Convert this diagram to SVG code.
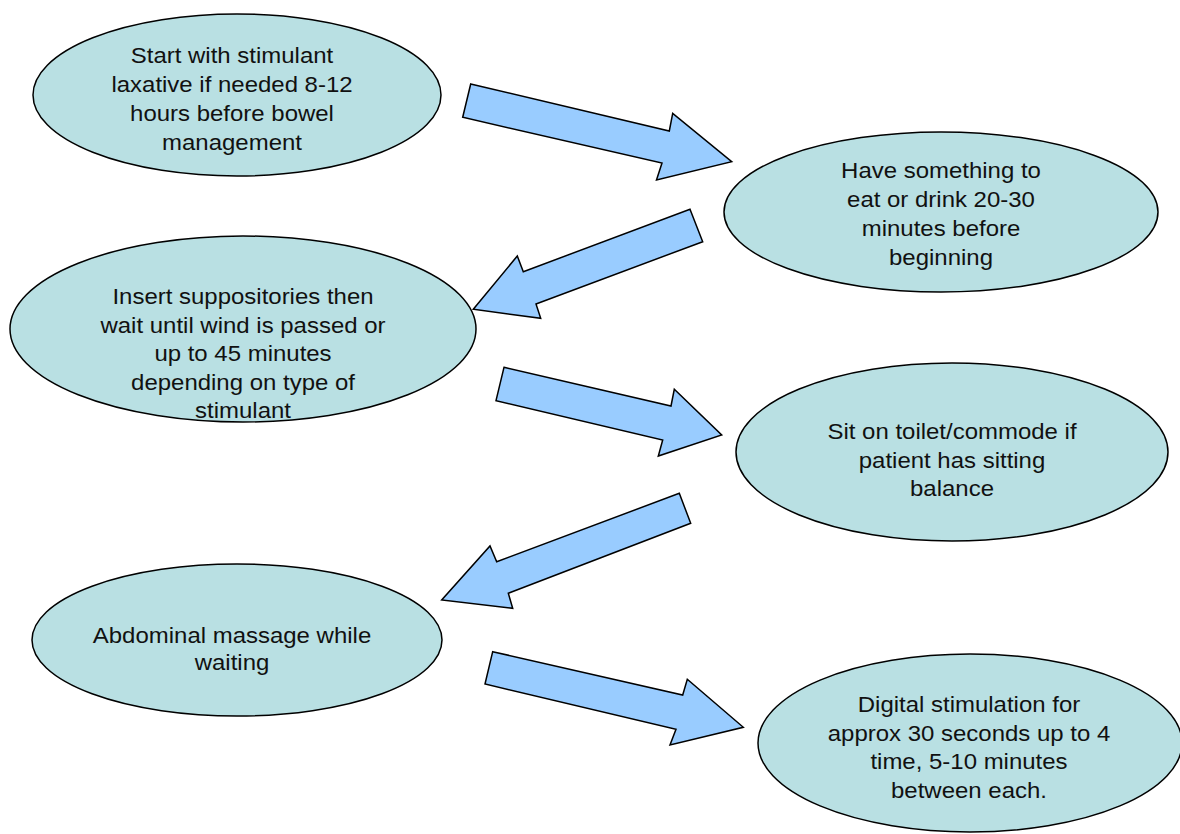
<svg xmlns="http://www.w3.org/2000/svg" width="1180" height="834" viewBox="0 0 1180 834">
<style>
.node ellipse{fill:#b9e0e3;stroke:#000;stroke-width:1.5}
.node text{font-family:"Liberation Sans",Arial,sans-serif;font-size:22px;fill:#111;text-anchor:middle}
.conn polygon{fill:#99ccff;stroke:#000;stroke-width:1.5;stroke-linejoin:miter}
</style>
<rect width="1180" height="834" fill="#fff"/>
<g id="n1" class="node">
<ellipse cx="237" cy="95" rx="204" ry="81"/>
<g transform="translate(232,0) scale(1.09,1)">
<text x="0" y="63">Start with stimulant</text>
<text x="0" y="92">laxative if needed 8-12</text>
<text x="0" y="121">hours before bowel</text>
<text x="0" y="150">management</text>
</g>
</g>
<g id="n2" class="node">
<ellipse cx="941" cy="212" rx="217" ry="80"/>
<g transform="translate(941,0) scale(1.09,1)">
<text x="0" y="178">Have something to</text>
<text x="0" y="207">eat or drink 20-30</text>
<text x="0" y="236">minutes before</text>
<text x="0" y="265">beginning</text>
</g>
</g>
<g id="n3" class="node">
<ellipse cx="243" cy="329" rx="233" ry="93"/>
<g transform="translate(243,0) scale(1.09,1)">
<text x="0" y="304">Insert suppositories then</text>
<text x="0" y="333">wait until wind is passed or</text>
<text x="0" y="361">up to 45 minutes</text>
<text x="0" y="390">depending on type of</text>
<text x="0" y="418">stimulant</text>
</g>
</g>
<g id="n4" class="node">
<ellipse cx="952" cy="452" rx="216" ry="89"/>
<g transform="translate(952,0) scale(1.09,1)">
<text x="0" y="439">Sit on toilet/commode if</text>
<text x="0" y="468">patient has sitting</text>
<text x="0" y="496">balance</text>
</g>
</g>
<g id="n5" class="node">
<ellipse cx="237" cy="640" rx="205" ry="76"/>
<g transform="translate(232,0) scale(1.09,1)">
<text x="0" y="643">Abdominal massage while</text>
<text x="0" y="670">waiting</text>
</g>
</g>
<g id="n6" class="node">
<ellipse cx="970" cy="743" rx="212" ry="89"/>
<g transform="translate(969,0) scale(1.09,1)">
<text x="0" y="712">Digital stimulation for</text>
<text x="0" y="741">approx 30 seconds up to 4</text>
<text x="0" y="769">time, 5-10 minutes</text>
<text x="0" y="798">between each.</text>
</g>
</g>
<g id="connectors" class="conn">
<polygon points="470.7,84 669.3,131 672.7,113.3 731.7,161.7 656.5,180 662,163 462.7,117.3"/>
<polygon points="690,209.3 702.7,241.7 536,304 540.7,318.3 473.3,309.3 517.3,256 523.3,271.7"/>
<polygon points="504,367.3 671,406 674.3,389.3 721.7,435 658.3,456 662.7,440 496,400.7"/>
<polygon points="679.3,493.3 690.7,523.3 508.3,593.3 512.7,608.3 441.7,600 490,546 496.7,561.7"/>
<polygon points="492.7,651.7 682.7,695 687.3,679.3 743.3,727.3 670,745 676,729.3 485,684"/>
</g>
</svg>
